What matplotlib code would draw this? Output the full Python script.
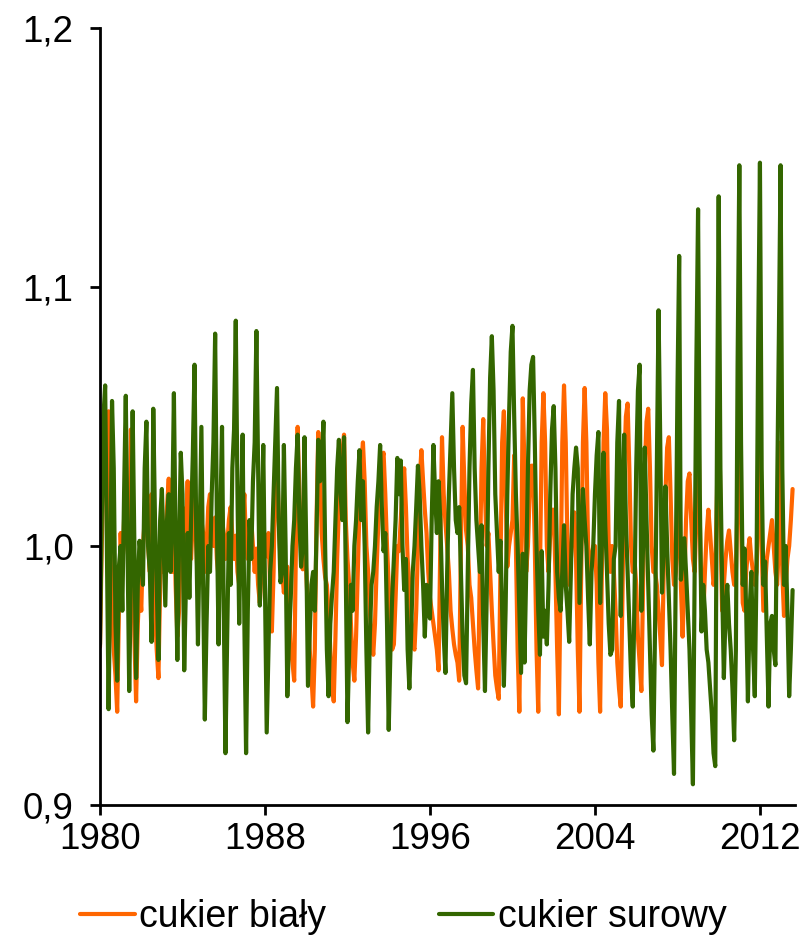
import numpy as np
import matplotlib
matplotlib.use("Agg")
import matplotlib.pyplot as plt

plt.rcParams['font.family'] = ['Liberation Sans', 'DejaVu Sans']

# Monthly seasonal indices, Jan 1980 - Aug 2013
cukier_bialy = [
    0.961, 1.000, 1.030, 1.040, 1.020, 1.052, 1.000, 0.975, 0.960, 0.950, 0.936, 0.975,  # 1980
    1.005, 0.990, 1.010, 1.030, 1.000, 0.990, 1.045, 1.000, 0.965, 0.940, 0.970, 0.985,  # 1981
    0.975, 1.000, 1.010, 1.028, 1.000, 0.990, 1.020, 1.010, 0.975, 0.960, 0.949, 0.985,  # 1982
    1.010, 0.990, 1.000, 1.015, 1.026, 1.000, 0.990, 1.020, 0.985, 0.965, 0.975, 1.000,  # 1983
    1.015, 0.990, 1.005, 1.025, 1.000, 0.995, 1.010, 1.020, 1.000, 0.985, 0.995, 1.010,  # 1984
    1.005, 0.990, 1.000, 1.015, 1.020, 1.005, 1.000, 1.011, 0.995, 0.988, 1.000, 1.010,  # 1985
    1.005, 0.995, 1.000, 1.010, 1.015, 1.004, 0.995, 1.004, 0.990, 0.985, 0.995, 1.010,  # 1986
    1.020, 1.000, 0.995, 1.005, 1.010, 1.000, 0.990, 0.999, 0.985, 0.978, 0.990, 1.005,  # 1987
    1.000, 0.996, 1.005, 0.985, 0.967, 0.990, 1.030, 1.035, 1.010, 0.995, 0.990, 0.982,  # 1988
    0.990, 0.992, 0.975, 0.960, 0.955, 0.948, 1.000, 1.046, 1.020, 1.000, 0.991, 1.000,  # 1989
    0.990, 0.975, 0.960, 0.950, 0.938, 0.960, 1.010, 1.044, 1.030, 1.005, 0.995, 0.988,  # 1990
    0.985, 0.975, 0.960, 0.948, 0.940, 0.965, 0.995, 1.015, 1.030, 1.036, 1.043, 1.010,  # 1991
    0.995, 0.985, 0.970, 0.955, 0.948, 0.965, 0.990, 1.015, 1.032, 1.040, 1.025, 1.000,  # 1992
    0.990, 0.975, 0.965, 0.958, 0.970, 0.992, 1.010, 1.025, 1.033, 1.036, 1.020, 1.000,  # 1993
    0.985, 0.970, 0.960, 0.962, 0.980, 1.000, 0.998, 1.010, 1.022, 1.030, 1.015, 0.995,  # 1994
    0.985, 0.972, 0.962, 0.960, 0.975, 1.000, 1.025, 1.037, 1.025, 1.014, 1.005, 0.990,  # 1995
    0.980, 0.975, 0.970, 0.965, 0.960, 0.952, 1.000, 1.042, 1.020, 1.009, 1.000, 0.990,  # 1996
    0.975, 0.968, 0.962, 0.958, 0.955, 0.948, 1.000, 1.046, 1.025, 1.006, 1.000, 0.985,  # 1997
    0.980, 0.970, 0.960, 0.952, 0.945, 0.990, 1.030, 1.049, 1.020, 1.000, 1.005, 0.990,  # 1998
    0.975, 0.962, 0.950, 0.945, 0.941, 0.990, 1.040, 1.052, 1.020, 0.992, 1.000, 1.005,  # 1999
    1.010, 1.035, 1.000, 0.960, 0.936, 0.990, 1.057, 1.030, 0.990, 1.000, 1.020, 1.031,  # 2000
    1.031, 1.000, 0.960, 0.936, 0.990, 1.040, 1.059, 1.040, 1.000, 0.990, 1.005, 1.014,  # 2001
    1.014, 0.990, 0.960, 0.935, 0.985, 1.040, 1.062, 1.040, 1.000, 0.985, 0.995, 1.010,  # 2002
    1.013, 0.995, 0.960, 0.936, 0.990, 1.040, 1.061, 1.040, 1.000, 0.990, 0.995, 1.000,  # 2003
    1.000, 0.985, 0.955, 0.936, 0.990, 1.040, 1.059, 1.045, 1.000, 0.990, 1.000, 0.990,  # 2004
    0.975, 0.955, 0.945, 0.938, 0.980, 1.030, 1.050, 1.055, 1.030, 1.000, 0.990, 0.995,  # 2005
    0.985, 0.965, 0.955, 0.944, 0.985, 1.030, 1.048, 1.053, 1.030, 1.000, 0.990, 0.990,  # 2006
    0.985, 0.975, 0.965, 0.954, 0.990, 1.020, 1.038, 1.042, 1.020, 0.995, 0.985, 0.990,  # 2007
    1.005, 1.037, 0.985, 0.965, 0.985, 1.010, 1.025, 1.028, 1.010, 0.995, 0.990, 1.010,  # 2008
    1.061, 1.010, 0.980, 0.972, 0.990, 1.005, 1.014, 1.005, 0.995, 0.985, 0.990, 1.020,  # 2009
    1.076, 1.010, 0.975, 0.985, 0.995, 1.002, 1.006, 0.998, 0.990, 0.985, 0.990, 1.020,  # 2010
    1.076, 1.010, 0.978, 0.975, 0.990, 0.998, 1.003, 0.995, 0.990, 0.985, 0.990, 1.015,  # 2011
    1.058, 1.000, 0.975, 0.985, 0.995, 1.000, 1.005, 1.010, 1.000, 0.990, 0.985, 1.000,  # 2012
    1.040, 0.990, 0.973, 0.985, 0.995, 1.000, 1.010, 1.022,                              # 2013
]

cukier_surowy = [
    0.962, 1.010, 1.050, 1.062, 1.000, 0.937, 0.990, 1.056, 1.030, 0.970, 0.948, 0.992,  # 1980
    1.000, 0.975, 1.020, 1.058, 1.000, 0.944, 0.990, 1.052, 1.000, 0.949, 0.985, 1.002,  # 1981
    0.995, 0.985, 1.030, 1.048, 1.000, 0.990, 0.963, 1.053, 1.010, 0.985, 0.956, 1.010,  # 1982
    1.022, 1.000, 0.977, 1.010, 1.020, 0.990, 1.010, 1.059, 1.000, 0.956, 1.000, 1.036,  # 1983
    1.020, 0.952, 0.985, 1.005, 0.980, 1.010, 1.035, 1.070, 1.005, 0.962, 1.005, 1.046,  # 1984
    0.985, 0.933, 0.970, 1.000, 0.990, 1.020, 1.040, 1.082, 1.010, 0.962, 1.010, 1.046,  # 1985
    0.975, 0.920, 0.965, 1.005, 0.985, 1.030, 1.045, 1.087, 1.020, 0.970, 1.010, 1.043,  # 1986
    0.970, 0.920, 0.975, 1.010, 0.995, 1.025, 1.040, 1.083, 1.030, 0.977, 1.005, 1.039,  # 1987
    0.985, 0.928, 0.960, 0.990, 1.000, 1.020, 1.040, 1.061, 1.010, 0.986, 0.990, 1.039,  # 1988
    1.000, 0.942, 0.965, 0.980, 1.000, 1.010, 1.030, 1.043, 1.010, 0.992, 1.000, 1.042,  # 1989
    1.000, 0.946, 0.965, 0.985, 0.990, 0.975, 1.005, 1.041, 1.025, 1.030, 1.048, 1.000,  # 1990
    0.960, 0.942, 0.970, 0.981, 0.990, 1.010, 1.030, 1.041, 1.020, 1.010, 1.042, 0.990,  # 1991
    0.932, 0.960, 0.985, 0.975, 1.000, 1.010, 1.025, 1.037, 1.010, 1.025, 1.000, 0.960,  # 1992
    0.928, 0.965, 0.985, 0.990, 1.000, 1.015, 1.025, 1.039, 1.015, 0.998, 1.005, 0.970,  # 1993
    0.929, 0.960, 0.980, 0.995, 1.010, 1.034, 1.020, 1.033, 1.000, 0.983, 0.995, 0.960,  # 1994
    0.945, 0.965, 0.990, 1.000, 1.015, 1.031, 1.020, 1.000, 0.985, 0.965, 0.985, 0.975,  # 1995
    0.972, 1.010, 1.039, 1.020, 1.005, 1.025, 1.010, 0.985, 0.965, 0.951, 0.990, 1.020,  # 1996
    1.040, 1.059, 1.030, 1.010, 1.005, 1.015, 0.990, 0.965, 0.950, 0.947, 0.990, 1.030,  # 1997
    1.055, 1.068, 1.030, 1.010, 1.000, 0.990, 1.008, 0.970, 0.944, 0.980, 1.030, 1.065,  # 1998
    1.081, 1.060, 1.020, 1.005, 0.990, 1.002, 0.975, 0.946, 0.975, 1.020, 1.050, 1.075,  # 1999
    1.085, 1.050, 1.020, 1.000, 0.975, 0.951, 0.997, 0.955, 0.990, 1.030, 1.060, 1.070,  # 2000
    1.073, 1.040, 1.000, 0.975, 0.958, 0.998, 0.965, 0.975, 0.962, 0.985, 1.020, 1.045,  # 2001
    1.054, 1.030, 0.990, 0.980, 0.975, 0.990, 1.008, 0.985, 0.975, 0.963, 0.990, 1.020,  # 2002
    1.030, 1.038, 1.030, 0.978, 1.000, 1.022, 1.010, 1.000, 0.980, 0.962, 0.990, 1.000,  # 2003
    1.020, 1.035, 1.044, 0.978, 1.000, 1.036, 1.008, 0.990, 0.970, 0.958, 0.960, 0.995,  # 2004
    1.000, 1.040, 1.056, 0.973, 1.010, 1.043, 1.010, 0.990, 0.970, 0.950, 0.938, 0.980,  # 2005
    1.030, 1.060, 1.070, 0.975, 1.000, 1.038, 1.010, 0.985, 0.960, 0.935, 0.921, 0.970,  # 2006
    1.030, 1.091, 1.040, 0.982, 1.000, 1.023, 1.000, 0.980, 0.960, 0.935, 0.912, 0.990,  # 2007
    1.060, 1.112, 0.987, 0.995, 1.003, 0.990, 0.975, 0.960, 0.935, 0.908, 0.990, 1.070,  # 2008
    1.130, 1.020, 0.967, 0.985, 0.975, 0.960, 0.955, 0.945, 0.935, 0.920, 0.915, 1.040,  # 2009
    1.135, 1.030, 0.985, 0.949, 0.975, 0.985, 0.970, 0.960, 0.945, 0.925, 0.960, 1.070,  # 2010
    1.147, 1.040, 0.985, 0.999, 0.975, 0.940, 0.975, 0.990, 0.960, 0.942, 0.990, 1.080,  # 2011
    1.148, 1.030, 0.985, 0.994, 0.965, 0.938, 0.970, 0.973, 0.960, 0.954, 1.020, 1.080,  # 2012
    1.147, 1.030, 0.985, 1.000, 0.975, 0.942, 0.960, 0.983,                              # 2013
]

x_ticks = [1980, 1988, 1996, 2004, 2012]
y_ticks = [0.9, 1.0, 1.1, 1.2]
y_labels = ['0,9', '1,0', '1,1', '1,2']

# time axis in fractional years, one point per month
lata = 1980 + np.arange(len(cukier_bialy)) / 12

fig = plt.figure(figsize=(7.99, 9.35), dpi=100)
ax = fig.add_axes([100 / 799, 1 - 805 / 935, 695 / 799, 777 / 935])

ax.plot(lata, cukier_bialy, color='#FF6600', lw=3.0, solid_joinstyle='round',
        solid_capstyle='round', label='cukier biały')
ax.plot(lata, cukier_surowy, color='#336600', lw=3.0, solid_joinstyle='round',
        solid_capstyle='round', label='cukier surowy')

ax.set_xlim(1980, 2013.7)
ax.set_ylim(0.9, 1.2)
ax.set_xticks(x_ticks)
ax.set_yticks(y_ticks)
ax.set_yticklabels(y_labels)

for s in ['top', 'right']:
    ax.spines[s].set_visible(False)
for s in ['left', 'bottom']:
    ax.spines[s].set_linewidth(2.0)

ax.tick_params(direction='out', length=7, width=2.0, labelsize=26.5)
ax.tick_params(axis='y', pad=12)
ax.tick_params(axis='x', pad=5)

fig.legend(loc='center', bbox_to_anchor=(0.505, 0.019), ncol=2, frameon=False,
           fontsize=27, handlelength=1.45, handletextpad=0.12, columnspacing=3.0)

fig.savefig('out.png', dpi=100)
